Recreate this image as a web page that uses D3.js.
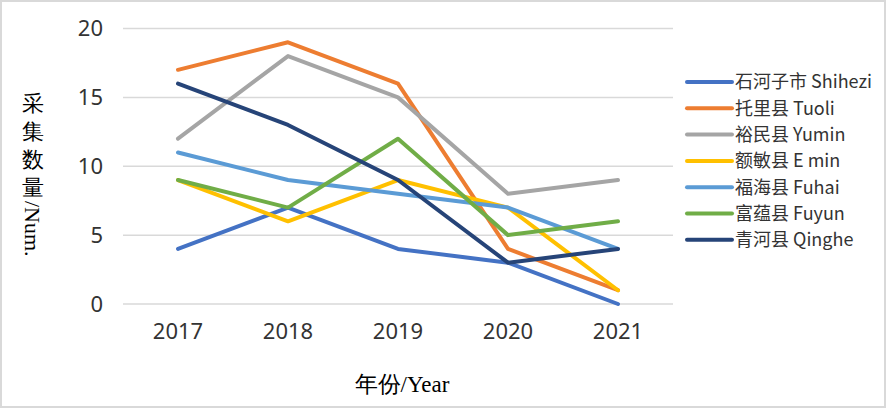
<!DOCTYPE html>
<html>
<head>
<meta charset="utf-8">
<script src="https://cdn.jsdelivr.net/npm/d3@7"></script>
<style>
  body { margin: 0; background: #fff; }
  svg { display: block; }
</style>
</head>
<body>
<div id="chart"></div>
<script>
// data
const years = ["2017", "2018", "2019", "2020", "2021"];
const seriesNames = ["石河子市 Shihezi", "托里县 Tuoli", "裕民县 Yumin", "额敏县 E min", "福海县 Fuhai", "富蕴县 Fuyun", "青河县 Qinghe"];
const shihezi = [4, 7, 4, 3, 0];
const tuoli = [17, 19, 16, 4, 1];
const yumin = [12, 18, 15, 8, 9];
const emin = [9, 6, 9, 7, 1];
const fuhai = [11, 9, 8, 7, 4];
const fuyun = [9, 7, 12, 5, 6];
const qinghe = [16, 13, 9, 3, 4];
const yTicks = [0, 5, 10, 15, 20];

const colors = ["#4472C4", "#ED7D31", "#A5A5A5", "#FFC000", "#5B9BD5", "#70AD47", "#264478"];
const allValues = [shihezi, tuoli, yumin, emin, fuhai, fuyun, qinghe];

const W = 886, H = 408;
const plot = { left: 123, right: 673, top: 28.5, bottom: 304 };

const svg = d3.select("#chart").append("svg")
  .attr("width", W)
  .attr("height", H);

// outer frame
svg.append("rect")
  .attr("x", 1).attr("y", 1)
  .attr("width", W - 2).attr("height", H - 2)
  .attr("fill", "#fff")
  .attr("stroke", "#d9d9d9")
  .attr("stroke-width", 2);

const x = d3.scaleBand().domain(years).range([plot.left, plot.right]);
const y = d3.scaleLinear().domain([0, 20]).range([plot.bottom, plot.top]);

// gridlines
svg.append("g")
  .selectAll("line")
  .data(yTicks)
  .enter()
  .append("line")
  .attr("x1", plot.left)
  .attr("x2", plot.right)
  .attr("y1", d => y(d))
  .attr("y2", d => y(d))
  .attr("stroke", "#d9d9d9")
  .attr("stroke-width", 1.5);

// y tick labels
svg.append("g")
  .selectAll("text")
  .data(yTicks)
  .enter()
  .append("text")
  .attr("x", 103)
  .attr("y", d => y(d))
  .attr("dy", "0.35em")
  .attr("text-anchor", "end")
  .style("font-family", "'Noto Sans', sans-serif")
  .style("font-size", "22px")
  .style("fill", "#333")
  .text(d => d);

// x tick labels
svg.append("g")
  .selectAll("text")
  .data(years)
  .enter()
  .append("text")
  .attr("x", d => x(d) + x.bandwidth() / 2)
  .attr("y", 331)
  .attr("dy", "0.35em")
  .attr("text-anchor", "middle")
  .style("font-family", "'Noto Sans', sans-serif")
  .style("font-size", "22px")
  .style("fill", "#333")
  .text(d => d);

// lines
const line = d3.line()
  .x((d, i) => x(years[i]) + x.bandwidth() / 2)
  .y(d => y(d));

svg.append("g")
  .selectAll("path")
  .data(allValues)
  .enter()
  .append("path")
  .attr("d", d => line(d))
  .attr("fill", "none")
  .attr("stroke", (d, i) => colors[i])
  .attr("stroke-width", 4)
  .attr("stroke-linejoin", "round")
  .attr("stroke-linecap", "round");

// legend
const legend = svg.append("g")
  .selectAll("g")
  .data(seriesNames)
  .enter()
  .append("g")
  .attr("transform", (d, i) => `translate(687,${82 + i * 26.3})`);

legend.append("line")
  .attr("x1", 0).attr("x2", 45)
  .attr("y1", 0).attr("y2", 0)
  .attr("stroke", (d, i) => colors[i])
  .attr("stroke-width", 4)
  .attr("stroke-linecap", "round");

legend.append("text")
  .attr("x", 48)
  .attr("y", 0)
  .attr("dy", "0.35em")
  .style("font-family", "'Noto Sans CJK SC', sans-serif")
  .style("font-size", "18px")
  .style("fill", "#333")
  .text(d => d);

// y axis title: chinese chars stacked upright, then "/Num." turned
const yTitleChars = "采集数量".split("");
svg.append("g")
  .selectAll("text")
  .data(yTitleChars)
  .enter()
  .append("text")
  .attr("x", 33)
  .attr("y", (d, i) => 111 + i * 28)
  .attr("text-anchor", "middle")
  .style("font-family", "'Liberation Serif', serif")
  .style("font-size", "22px")
  .style("fill", "#000")
  .text(d => d);

svg.append("text")
  .attr("transform", "translate(33,201) rotate(90)")
  .attr("dy", "0.35em")
  .style("font-family", "'Liberation Serif', serif")
  .style("font-size", "22px")
  .style("fill", "#000")
  .text("/Num.");

svg.append("text")
  .attr("x", 402)
  .attr("y", 384)
  .attr("dy", "0.35em")
  .attr("text-anchor", "middle")
  .style("font-family", "'Liberation Serif', serif")
  .style("font-size", "23px")
  .style("fill", "#000")
  .text("年份/Year");
</script>
</body>
</html>
